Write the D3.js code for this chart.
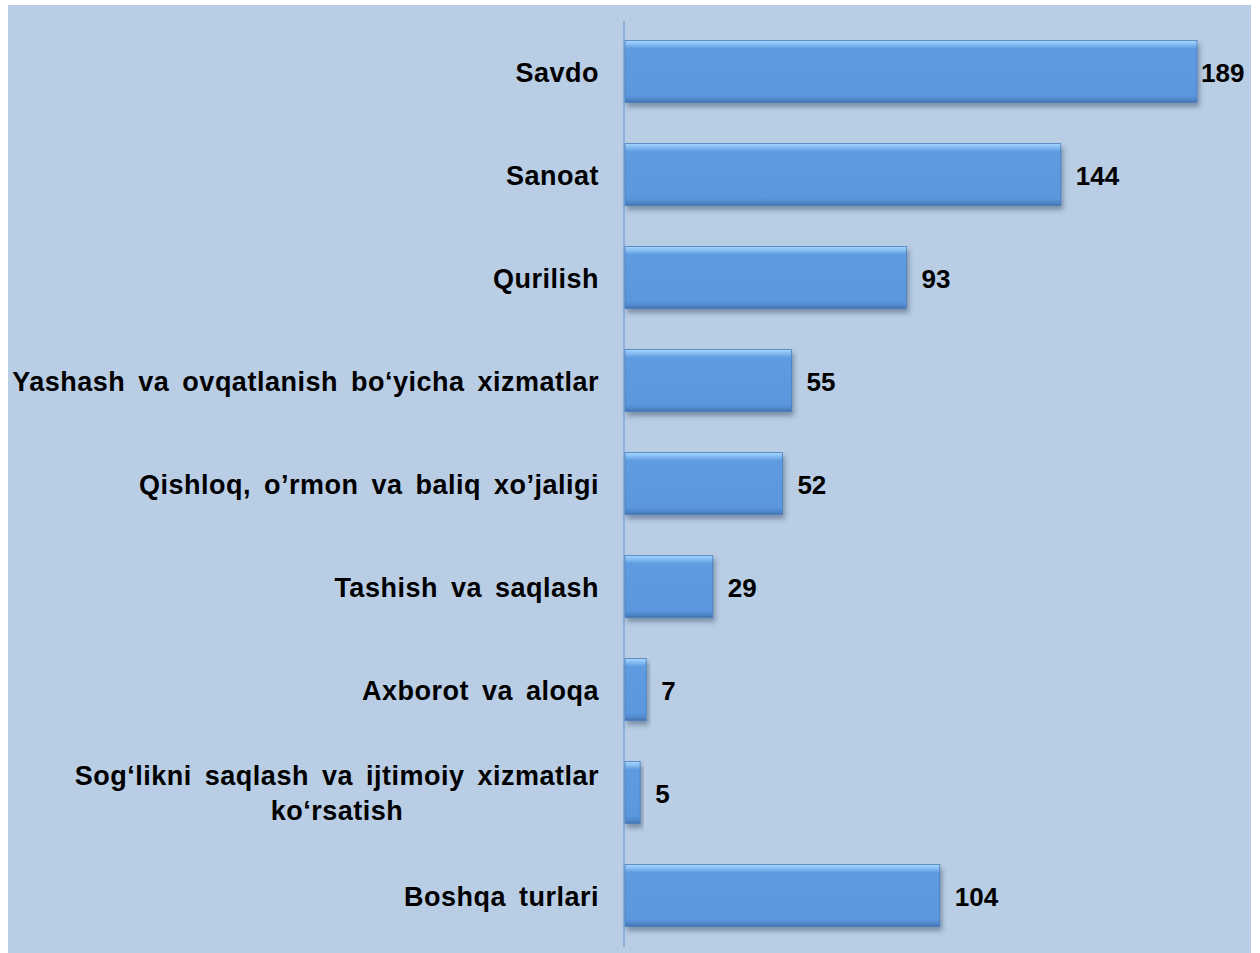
<!DOCTYPE html>
<html>
<head>
<meta charset="utf-8">
<script src="https://cdn.jsdelivr.net/npm/d3@7"></script>
<style>
  body { margin: 0; background: #fff; }
  text { font-family: "Liberation Sans", Arial, sans-serif; font-weight: bold; fill: #000; }
</style>
</head>
<body>
<div id="chart"></div>
<script>
const svgWidth = 1260;
const svgHeight = 953;

// data
const categories = [
  "Savdo",
  "Sanoat",
  "Qurilish",
  "Yashash va ovqatlanish bo\u2018yicha xizmatlar",
  "Qishloq, o\u2019rmon va baliq xo\u2019jaligi",
  "Tashish va saqlash",
  "Axborot va aloqa",
  "Sog\u2018likni saqlash va ijtimoiy xizmatlar|ko\u2018rsatish",
  "Boshqa turlari"
];
const values = [189, 144, 93, 55, 52, 29, 7, 5, 104];

const rows = categories.map((c, i) => ({ name: c, value: values[i] }));

const svg = d3.select("#chart")
  .append("svg")
  .attr("width", svgWidth)
  .attr("height", svgHeight);

const defs = svg.append("defs");

// bevel-ish gradient for the bars
const grad = defs.append("linearGradient")
  .attr("id", "barGrad")
  .attr("x1", 0).attr("y1", 0).attr("x2", 0).attr("y2", 1);
grad.append("stop").attr("offset", "0%").attr("stop-color", "#a6d6fd");
grad.append("stop").attr("offset", "6%").attr("stop-color", "#86bdf3");
grad.append("stop").attr("offset", "13%").attr("stop-color", "#5e9be0");
grad.append("stop").attr("offset", "88%").attr("stop-color", "#5b97de");
grad.append("stop").attr("offset", "96%").attr("stop-color", "#4f86c9");
grad.append("stop").attr("offset", "100%").attr("stop-color", "#3f6fa8");

const shadow = defs.append("filter")
  .attr("id", "shadow")
  .attr("x", "-10%").attr("y", "-20%").attr("width", "130%").attr("height", "150%");
shadow.append("feDropShadow")
  .attr("dx", 2).attr("dy", 4)
  .attr("stdDeviation", 2.5)
  .attr("flood-color", "#2a3f5c")
  .attr("flood-opacity", 0.45);

// background panel
svg.append("rect")
  .attr("x", 8)
  .attr("y", 5)
  .attr("width", 1243)
  .attr("height", svgHeight - 5)
  .attr("fill", "#b9cde4");

const xScale = d3.scaleLinear()
  .domain([0, 189])
  .range([625, 1197]);

const yScale = d3.scaleBand()
  .domain(categories)
  .range([20, 947])
  .paddingInner(0.4)
  .paddingOuter(0.2);

// axis line
const leftAxis = d3.axisLeft(yScale).tickSize(0).tickFormat("");
const yAxis = svg.append("g")
  .attr("transform", `translate(${xScale(0) - 1}, 0)`)
  .call(leftAxis);
yAxis.select(".domain")
  .attr("stroke", "#7fa7d9")
  .attr("stroke-width", 1.5)
  .attr("d", "M0,21V947");

// bars
svg.selectAll(".bar")
  .data(rows)
  .enter()
  .append("rect")
  .attr("class", "bar")
  .attr("x", xScale(0))
  .attr("y", d => yScale(d.name))
  .attr("width", d => xScale(d.value) - xScale(0))
  .attr("height", yScale.bandwidth())
  .attr("fill", "url(#barGrad)")
  .attr("stroke", "#4a7fbf")
  .attr("stroke-width", 0.8)
  .attr("filter", "url(#shadow)");

// value labels
svg.selectAll(".val")
  .data(rows)
  .enter()
  .append("text")
  .attr("class", "val")
  .attr("x", d => xScale(d.value) + (d.value > 150 ? 4 : 15))
  .attr("y", d => yScale(d.name) + yScale.bandwidth() / 2 + 10)
  .attr("font-size", 26)
  .text(d => d.value);

// category labels (right aligned, multi-line ones centered in their block)
const labelRight = 599;
svg.selectAll(".cat")
  .data(rows)
  .enter()
  .append("text")
  .attr("class", "cat")
  .attr("font-size", 27)
  .attr("letter-spacing", 0.5)
  .attr("word-spacing", 5)
  .each(function(d) {
    const lines = d.name.split("|");
    const t = d3.select(this);
    const cy = yScale(d.name) + yScale.bandwidth() / 2;
    if (lines.length === 1) {
      t.attr("text-anchor", "end")
        .attr("x", labelRight)
        .attr("y", cy + 10)
        .text(lines[0]);
    } else {
      // measure the widest line, then center each line in that block
      const tmp = t.append("tspan").text(lines[0]);
      const w = tmp.node().getComputedTextLength();
      tmp.remove();
      const cx = labelRight - w / 2;
      t.attr("text-anchor", "middle");
      lines.forEach((ln, k) => {
        t.append("tspan")
          .attr("x", cx)
          .attr("y", cy + 10 + (k - (lines.length - 1) / 2) * 35)
          .text(ln);
      });
    }
  });
</script>
</body>
</html>
